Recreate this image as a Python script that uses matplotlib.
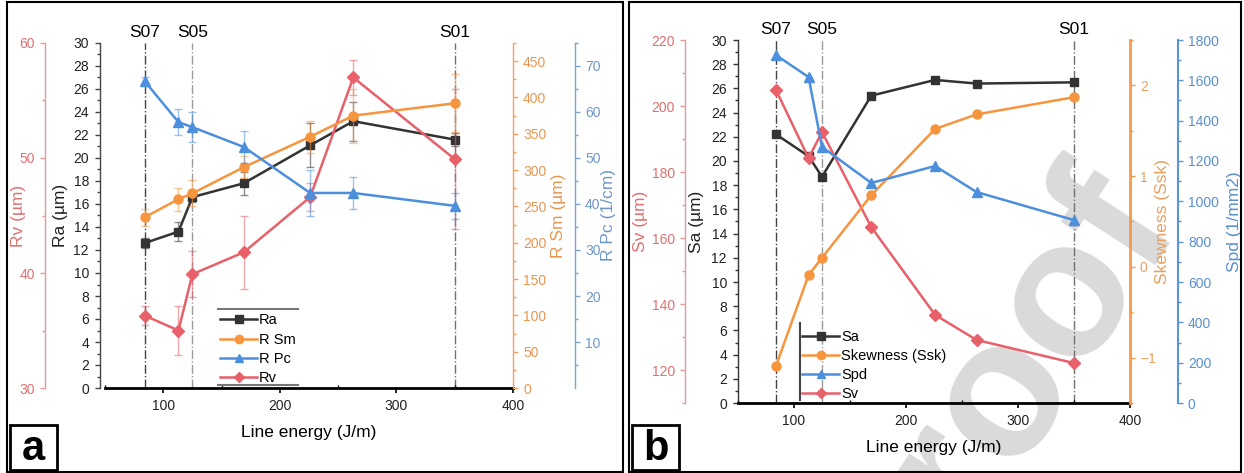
import matplotlib
matplotlib.use('Agg')
import matplotlib.pyplot as plt
from matplotlib.lines import Line2D
from matplotlib.patches import Rectangle
from matplotlib.ticker import MultipleLocator, FixedLocator

plt.rcParams['font.family'] = ['Liberation Sans', 'DejaVu Sans']

# ---------------- data ----------------
energy = [84, 113, 125, 169, 226, 263, 350]

ra = [12.6, 13.6, 16.6, 17.8, 21.1, 23.2, 21.6]
ra_err = [0.4, 0.8, 0.4, 1.0, 1.9, 1.7, 0.6]
r_sm = [235, 260, 268, 304, 346, 375, 392]
r_sm_err = [12, 16, 18, 15, 22, 37, 40]
r_pc = [66.7, 57.8, 56.7, 52.4, 42.4, 42.4, 39.6]
r_pc_err = [1.0, 2.8, 3.2, 3.4, 5.0, 3.5, 2.8]
rv = [36.3, 35.0, 39.9, 41.8, 46.6, 57.0, 49.9]
rv_err = [0.8, 2.1, 2.0, 3.2, 1.2, 1.5, 6.1]

sa = [22.2, 20.4, 18.7, 25.4, 26.7, 26.4, 26.5]
ssk = [-1.09, -0.09, 0.10, 0.79, 1.52, 1.68, 1.87]
spd = [1725, 1616, 1270, 1091, 1175, 1046, 907]
sv = [204.8, 184.2, 192.1, 163.3, 136.7, 129.1, 122.1]

sample_energy = [84, 125, 350]
sample_names = ['S07', 'S05', 'S01']
sample_colors = ['#444444', '#9a9a9a', '#707070']

# ---------------- styles ----------------
C_BLK = '#333333'
C_ORG = '#F7953F'
C_BLU = '#4C8FDD'
C_RED = '#E8606A'

W, H = 1244, 473
PT = 0.72  # points per pixel at 100 dpi


def px(x):
    return x / W


def py(y):
    return 1 - y / H


fig = plt.figure(figsize=(W / 100, H / 100), dpi=100)

FS_TICK = 10
FS_LAB = 12.5


def style_y(ax, side, color, lcolor, major, minor, lw=1.0, outward_px=0, pad_px=5):
    for s in ['top', 'bottom', 'left', 'right']:
        ax.spines[s].set_visible(False)
    ax.spines[side].set_visible(True)
    ax.spines[side].set_color(color)
    ax.spines[side].set_linewidth(lw)
    ax.spines[side].set_position(('outward', outward_px * PT))
    ax.yaxis.set_ticks_position(side)
    ax.yaxis.set_label_position(side)
    ax.yaxis.set_major_locator(major)
    ax.yaxis.set_minor_locator(minor)
    ax.tick_params(axis='y', which='major', direction='out', length=5 * PT, width=1,
                   color=color, labelcolor=lcolor, labelsize=FS_TICK, pad=pad_px * PT)
    ax.tick_params(axis='y', which='minor', direction='out', length=3 * PT, width=1,
                   color=color)
    ax.yaxis.label.set_color(lcolor)
    ax.yaxis.label.set_fontsize(FS_LAB)


def style_x(ax):
    ax.set_xlim(50, 400)
    ax.xaxis.set_major_locator(MultipleLocator(100))
    ax.xaxis.set_minor_locator(MultipleLocator(50))
    ax.spines['bottom'].set_color('black')
    ax.spines['bottom'].set_linewidth(2)
    ax.tick_params(axis='x', which='major', direction='out', length=5 * PT, width=1.2,
                   labelsize=FS_TICK, pad=6 * PT, labelcolor='#222222')
    ax.tick_params(axis='x', which='minor', direction='in', length=3 * PT, width=1)
    ax.set_xlabel('Line energy (J/m)', fontsize=FS_LAB)


def series(ax, y, color, marker, err=None, ms=6.5):
    if err is not None:
        ax.errorbar(energy, y, yerr=err, fmt='none', ecolor=color, alpha=0.55,
                    elinewidth=1, capsize=3, capthick=1, zorder=2)
    ax.plot(energy, y, color=color, marker=marker, ms=ms, lw=1.8, zorder=3)


# ======================= panel a =======================
axA = fig.add_axes([px(105), py(388), (513 - 105) / W, (388 - 43) / H])
axA.patch.set_visible(False)
axA.set_ylim(0, 30)
style_y(axA, 'left', '#444444', '#222222', MultipleLocator(2), MultipleLocator(1),
        outward_px=5, pad_px=6)
axA.set_ylabel('Ra (µm)')
axA.yaxis.label.set_color('#222222')
axA.spines['bottom'].set_visible(True)
style_x(axA)
axA.xaxis.set_label_coords(0.5, (388 - 432) / 345)
axA.xaxis.label.set_va('center')
axA.yaxis.set_label_coords((60 - 105) / 408, 0.5)
axA.yaxis.label.set_va('center')

axRv = axA.twinx()
axRv.set_ylim(30, 60)
style_y(axRv, 'left', '#E59A9A', '#E07070', MultipleLocator(10), MultipleLocator(5),
        outward_px=60, pad_px=5)
axRv.set_ylabel('Rv (µm)')
axRv.yaxis.set_label_coords((18 - 105) / 408, 0.5)
axRv.yaxis.label.set_va('center')

axSm = axA.twinx()
axSm.set_ylim(0, 475)
style_y(axSm, 'right', '#F2A263', '#E8964F', FixedLocator(range(0, 451, 50)),
        FixedLocator(range(25, 476, 50)), outward_px=0, pad_px=5)
axSm.set_ylabel('R Sm (µm)')
axSm.yaxis.set_label_coords((558 - 105) / 408, 0.5)
axSm.yaxis.label.set_va('center')

axPc = axA.twinx()
axPc.set_ylim(0, 75)
style_y(axPc, 'right', '#7FA3CF', '#6E97C8', FixedLocator(range(10, 71, 10)),
        FixedLocator(range(5, 76, 10)), outward_px=62, pad_px=5)
axPc.set_ylabel('R Pc (1/cm)')
axPc.yaxis.set_label_coords((608 - 105) / 408, 0.5)
axPc.yaxis.label.set_va('center')

series(axA, ra, C_BLK, 's', ra_err, ms=6)
series(axSm, r_sm, C_ORG, 'o', r_sm_err)
series(axPc, r_pc, C_BLU, '^', r_pc_err)
series(axRv, rv, C_RED, 'D', rv_err, ms=6)

for xe, nm, cc in zip(sample_energy, sample_names, sample_colors):
    axA.axvline(xe, color=cc, ls='-.', lw=1, zorder=1)
    axA.text(xe, (388 - 33) / 345, nm, transform=axA.get_xaxis_transform(),
             ha='center', va='center', fontsize=12.5)

handlesA = [Line2D([], [], color=C_BLK, marker='s', ms=5.5, lw=1.8),
            Line2D([], [], color=C_ORG, marker='o', ms=6, lw=1.8),
            Line2D([], [], color=C_BLU, marker='^', ms=6, lw=1.8),
            Line2D([], [], color=C_RED, marker='D', ms=5.5, lw=1.8)]
fig.legend(handlesA, ['Ra', 'R Sm', 'R Pc', 'Rv'], loc='upper left',
           bbox_to_anchor=(px(216), py(309)), frameon=False, fontsize=10.5,
           handlelength=2.5, handletextpad=0.15, labelspacing=0.36,
           borderpad=0.3, borderaxespad=0)
for yy in (309, 385):
    fig.add_artist(Line2D([px(218), px(298)], [py(yy), py(yy)], color='#777777',
                          lw=1.5, transform=fig.transFigure))

# ======================= panel b =======================
axB = fig.add_axes([px(738), py(403), (1130 - 738) / W, (403 - 40) / H])
axB.patch.set_visible(False)
axB.set_ylim(0, 30)
style_y(axB, 'left', '#333333', '#222222', MultipleLocator(2), MultipleLocator(1),
        outward_px=0, pad_px=6)
axB.set_ylabel('Sa (µm)')
axB.yaxis.label.set_color('#222222')
axB.spines['bottom'].set_visible(True)
style_x(axB)
axB.xaxis.set_label_coords(0.5, (403 - 447) / 363)
axB.xaxis.label.set_va('center')
axB.yaxis.set_label_coords((697 - 738) / 392, 0.5)
axB.yaxis.label.set_va('center')

axSv = axB.twinx()
axSv.set_ylim(110, 220)
style_y(axSv, 'left', '#E59A9A', '#E07070', FixedLocator(range(120, 221, 20)),
        FixedLocator(range(110, 221, 20)), outward_px=53, pad_px=5)
axSv.set_ylabel('Sv (µm)')
axSv.yaxis.set_label_coords((640 - 738) / 392, 0.5)
axSv.yaxis.label.set_va('center')

axSk = axB.twinx()
axSk.set_ylim(-1.5, 2.5)
style_y(axSk, 'right', '#F39A4E', '#E8A060', MultipleLocator(1), MultipleLocator(0.5),
        lw=2, outward_px=0, pad_px=5)
axSk.set_ylabel('Skewness (Ssk)')
axSk.yaxis.set_label_coords((1163 - 738) / 392, 0.5)
axSk.yaxis.label.set_va('center')

axSpd = axB.twinx()
axSpd.set_ylim(0, 1800)
style_y(axSpd, 'right', '#5B94DC', '#5A8FD0', MultipleLocator(200), MultipleLocator(100),
        lw=1.5, outward_px=48, pad_px=5)
axSpd.set_ylabel('Spd (1/mm2)')
axSpd.yaxis.set_label_coords((1235 - 738) / 392, 0.5)
axSpd.yaxis.label.set_va('center')

series(axB, sa, C_BLK, 's', ms=6)
series(axSk, ssk, C_ORG, 'o')
series(axSpd, spd, C_BLU, '^')
series(axSv, sv, C_RED, 'D', ms=6)

for xe, nm, cc in zip(sample_energy, sample_names, sample_colors):
    axB.axvline(xe, color=cc, ls='-.', lw=1, zorder=1)
    axB.text(xe, (403 - 30) / 363, nm, transform=axB.get_xaxis_transform(),
             ha='center', va='center', fontsize=12.5)

handlesB = [Line2D([], [], color=C_BLK, marker='s', ms=5.5, lw=1.8),
            Line2D([], [], color=C_ORG, marker='o', ms=6, lw=1.8),
            Line2D([], [], color=C_BLU, marker='^', ms=6, lw=1.8),
            Line2D([], [], color=C_RED, marker='D', ms=5.5, lw=1.8)]
fig.legend(handlesB, ['Sa', 'Skewness (Ssk)', 'Spd', 'Sv'], loc='upper left',
           bbox_to_anchor=(px(798), py(326)), frameon=False, fontsize=10.5,
           handlelength=2.5, handletextpad=0.15, labelspacing=0.33,
           borderpad=0.3, borderaxespad=0)
fig.add_artist(Line2D([px(800), px(800)], [py(323), py(400)], color='#444444',
                      lw=1.5, transform=fig.transFigure))

# ---------------- watermark ----------------
fig.text(px(1072), py(372), 'roof', rotation=57, rotation_mode='anchor',
         ha='center', va='baseline', fontsize=140, fontweight='bold',
         color='#dadada', zorder=-5)

# ---------------- panel frames and labels ----------------
for x0, x1 in ((7, 623), (629, 1241)):
    fig.add_artist(Rectangle((px(x0), py(472)), (x1 - x0) / W, (472 - 2) / H,
                             fill=False, ec='black', lw=1.5,
                             transform=fig.transFigure))
for x0, lab in ((10, 'a'), (632, 'b')):
    fig.add_artist(Rectangle((px(x0), py(470)), 47 / W, 45 / H, fill=False,
                             ec='black', lw=2, transform=fig.transFigure))
    fig.text(px(x0 + 23.5), py(449), lab, ha='center', va='center', fontsize=30,
             fontweight='bold')

fig.savefig('out.png', dpi=100)
